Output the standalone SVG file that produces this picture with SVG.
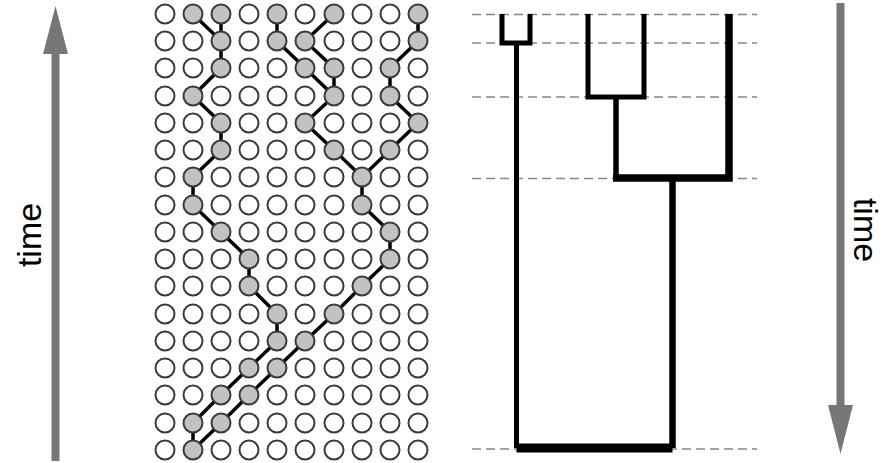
<svg xmlns="http://www.w3.org/2000/svg" xmlns:xlink="http://www.w3.org/1999/xlink" width="884" height="463" viewBox="0 0 884 463">
<style>
.o{fill:#fff;stroke:#3a3a3a;stroke-width:2}
.f{fill:#c2c2c2;stroke:#3a3a3a;stroke-width:2}
.lin{fill:none;stroke:#000;stroke-width:3.5;stroke-linejoin:round}
.dash{stroke:#888;stroke-width:1.5;stroke-dasharray:9 5;fill:none}
.tr{fill:none;stroke:#000;stroke-linejoin:miter;stroke-linecap:butt}
.ax{fill:#777}
.lbl{font-family:"Liberation Sans",Arial,sans-serif;font-size:34px;fill:#000}
</style>
<defs>
<circle id="o" class="o" r="9.5"/>
<circle id="f" class="f" r="9.5"/>
</defs>
<g id="connectors">
<polyline class="lin" points="193,14 221,41 221,68 193,96 221,123 221,150 193,177 193,205 221,232 249,259 249,286 277,314 277,341 249,368 221,395 193,423 193,450"/>
<polyline class="lin" points="221,14 221,41"/>
<polyline class="lin" points="277,14 277,41 305,68 334,96 305,123 334,150 362,177 362,205 390,232 390,259 362,286 334,314 305,341 277,368 249,395 221,423 193,450"/>
<polyline class="lin" points="334,14 305,41 334,68 334,96"/>
<polyline class="lin" points="418,14 418,41 390,68 390,96 418,123 390,150 362,177"/>
</g>
<g id="grid">
<g id="r0" transform="translate(0,14)"><use href="#o" x="165"/><use href="#f" x="193"/><use href="#f" x="221"/><use href="#o" x="249"/><use href="#f" x="277"/><use href="#o" x="305"/><use href="#f" x="334"/><use href="#o" x="362"/><use href="#o" x="390"/><use href="#f" x="418"/></g>
<g id="r1" transform="translate(0,41)"><use href="#o" x="165"/><use href="#o" x="193"/><use href="#f" x="221"/><use href="#o" x="249"/><use href="#f" x="277"/><use href="#f" x="305"/><use href="#o" x="334"/><use href="#o" x="362"/><use href="#o" x="390"/><use href="#f" x="418"/></g>
<g id="r2" transform="translate(0,68)"><use href="#o" x="165"/><use href="#o" x="193"/><use href="#f" x="221"/><use href="#o" x="249"/><use href="#o" x="277"/><use href="#f" x="305"/><use href="#f" x="334"/><use href="#o" x="362"/><use href="#f" x="390"/><use href="#o" x="418"/></g>
<g id="r3" transform="translate(0,96)"><use href="#o" x="165"/><use href="#f" x="193"/><use href="#o" x="221"/><use href="#o" x="249"/><use href="#o" x="277"/><use href="#o" x="305"/><use href="#f" x="334"/><use href="#o" x="362"/><use href="#f" x="390"/><use href="#o" x="418"/></g>
<g id="r4" transform="translate(0,123)"><use href="#o" x="165"/><use href="#o" x="193"/><use href="#f" x="221"/><use href="#o" x="249"/><use href="#o" x="277"/><use href="#f" x="305"/><use href="#o" x="334"/><use href="#o" x="362"/><use href="#o" x="390"/><use href="#f" x="418"/></g>
<g id="r5" transform="translate(0,150)"><use href="#o" x="165"/><use href="#o" x="193"/><use href="#f" x="221"/><use href="#o" x="249"/><use href="#o" x="277"/><use href="#o" x="305"/><use href="#f" x="334"/><use href="#o" x="362"/><use href="#f" x="390"/><use href="#o" x="418"/></g>
<g id="r6" transform="translate(0,177)"><use href="#o" x="165"/><use href="#f" x="193"/><use href="#o" x="221"/><use href="#o" x="249"/><use href="#o" x="277"/><use href="#o" x="305"/><use href="#o" x="334"/><use href="#f" x="362"/><use href="#o" x="390"/><use href="#o" x="418"/></g>
<g id="r7" transform="translate(0,205)"><use href="#o" x="165"/><use href="#f" x="193"/><use href="#o" x="221"/><use href="#o" x="249"/><use href="#o" x="277"/><use href="#o" x="305"/><use href="#o" x="334"/><use href="#f" x="362"/><use href="#o" x="390"/><use href="#o" x="418"/></g>
<g id="r8" transform="translate(0,232)"><use href="#o" x="165"/><use href="#o" x="193"/><use href="#f" x="221"/><use href="#o" x="249"/><use href="#o" x="277"/><use href="#o" x="305"/><use href="#o" x="334"/><use href="#o" x="362"/><use href="#f" x="390"/><use href="#o" x="418"/></g>
<g id="r9" transform="translate(0,259)"><use href="#o" x="165"/><use href="#o" x="193"/><use href="#o" x="221"/><use href="#f" x="249"/><use href="#o" x="277"/><use href="#o" x="305"/><use href="#o" x="334"/><use href="#o" x="362"/><use href="#f" x="390"/><use href="#o" x="418"/></g>
<g id="r10" transform="translate(0,286)"><use href="#o" x="165"/><use href="#o" x="193"/><use href="#o" x="221"/><use href="#f" x="249"/><use href="#o" x="277"/><use href="#o" x="305"/><use href="#o" x="334"/><use href="#f" x="362"/><use href="#o" x="390"/><use href="#o" x="418"/></g>
<g id="r11" transform="translate(0,314)"><use href="#o" x="165"/><use href="#o" x="193"/><use href="#o" x="221"/><use href="#o" x="249"/><use href="#f" x="277"/><use href="#o" x="305"/><use href="#f" x="334"/><use href="#o" x="362"/><use href="#o" x="390"/><use href="#o" x="418"/></g>
<g id="r12" transform="translate(0,341)"><use href="#o" x="165"/><use href="#o" x="193"/><use href="#o" x="221"/><use href="#o" x="249"/><use href="#f" x="277"/><use href="#f" x="305"/><use href="#o" x="334"/><use href="#o" x="362"/><use href="#o" x="390"/><use href="#o" x="418"/></g>
<g id="r13" transform="translate(0,368)"><use href="#o" x="165"/><use href="#o" x="193"/><use href="#o" x="221"/><use href="#f" x="249"/><use href="#f" x="277"/><use href="#o" x="305"/><use href="#o" x="334"/><use href="#o" x="362"/><use href="#o" x="390"/><use href="#o" x="418"/></g>
<g id="r14" transform="translate(0,395)"><use href="#o" x="165"/><use href="#o" x="193"/><use href="#f" x="221"/><use href="#f" x="249"/><use href="#o" x="277"/><use href="#o" x="305"/><use href="#o" x="334"/><use href="#o" x="362"/><use href="#o" x="390"/><use href="#o" x="418"/></g>
<g id="r15" transform="translate(0,423)"><use href="#o" x="165"/><use href="#f" x="193"/><use href="#f" x="221"/><use href="#o" x="249"/><use href="#o" x="277"/><use href="#o" x="305"/><use href="#o" x="334"/><use href="#o" x="362"/><use href="#o" x="390"/><use href="#o" x="418"/></g>
<g id="r16" transform="translate(0,450)"><use href="#o" x="165"/><use href="#f" x="193"/><use href="#o" x="221"/><use href="#o" x="249"/><use href="#o" x="277"/><use href="#o" x="305"/><use href="#o" x="334"/><use href="#o" x="362"/><use href="#o" x="390"/><use href="#o" x="418"/></g>
</g>
<g id="guides">
<line class="dash" x1="472" y1="14.5" x2="757" y2="14.5"/>
<line class="dash" x1="472" y1="43" x2="757" y2="43"/>
<line class="dash" x1="472" y1="97" x2="757" y2="97"/>
<line class="dash" x1="472" y1="178.5" x2="757" y2="178.5"/>
<line class="dash" x1="472" y1="449" x2="757" y2="449"/>
</g>
<g id="tree">
<path class="tr" stroke-width="5" d="M502,14 V43 H530 V14"/>
<path class="tr" stroke-width="5" d="M516.5,43 V448"/>
<path class="tr" stroke-width="5" d="M588,14 V97 H644 V14"/>
<path class="tr" stroke-width="5.5" d="M616,97 V178"/>
<path class="tr" stroke-width="7.5" d="M729,14 V178 H613"/>
<path class="tr" stroke-width="6.5" d="M672.5,178 V448"/>
<path class="tr" stroke-width="9" stroke-linecap="square" d="M516.5,448 H672.5"/>
</g>
<g id="axis-left">
<rect class="ax" x="51.5" y="50" width="8" height="411"/>
<polygon class="ax" points="55.5,6 68,54 43,54"/>
<text class="lbl" text-anchor="middle" transform="translate(41,235) rotate(-90)">time</text>
</g>
<g id="axis-right">
<rect class="ax" x="836.5" y="3" width="8" height="404"/>
<polygon class="ax" points="828,405 853,405 840.5,454"/>
<text class="lbl" text-anchor="middle" transform="translate(854,230) rotate(90)">time</text>
</g>
</svg>
